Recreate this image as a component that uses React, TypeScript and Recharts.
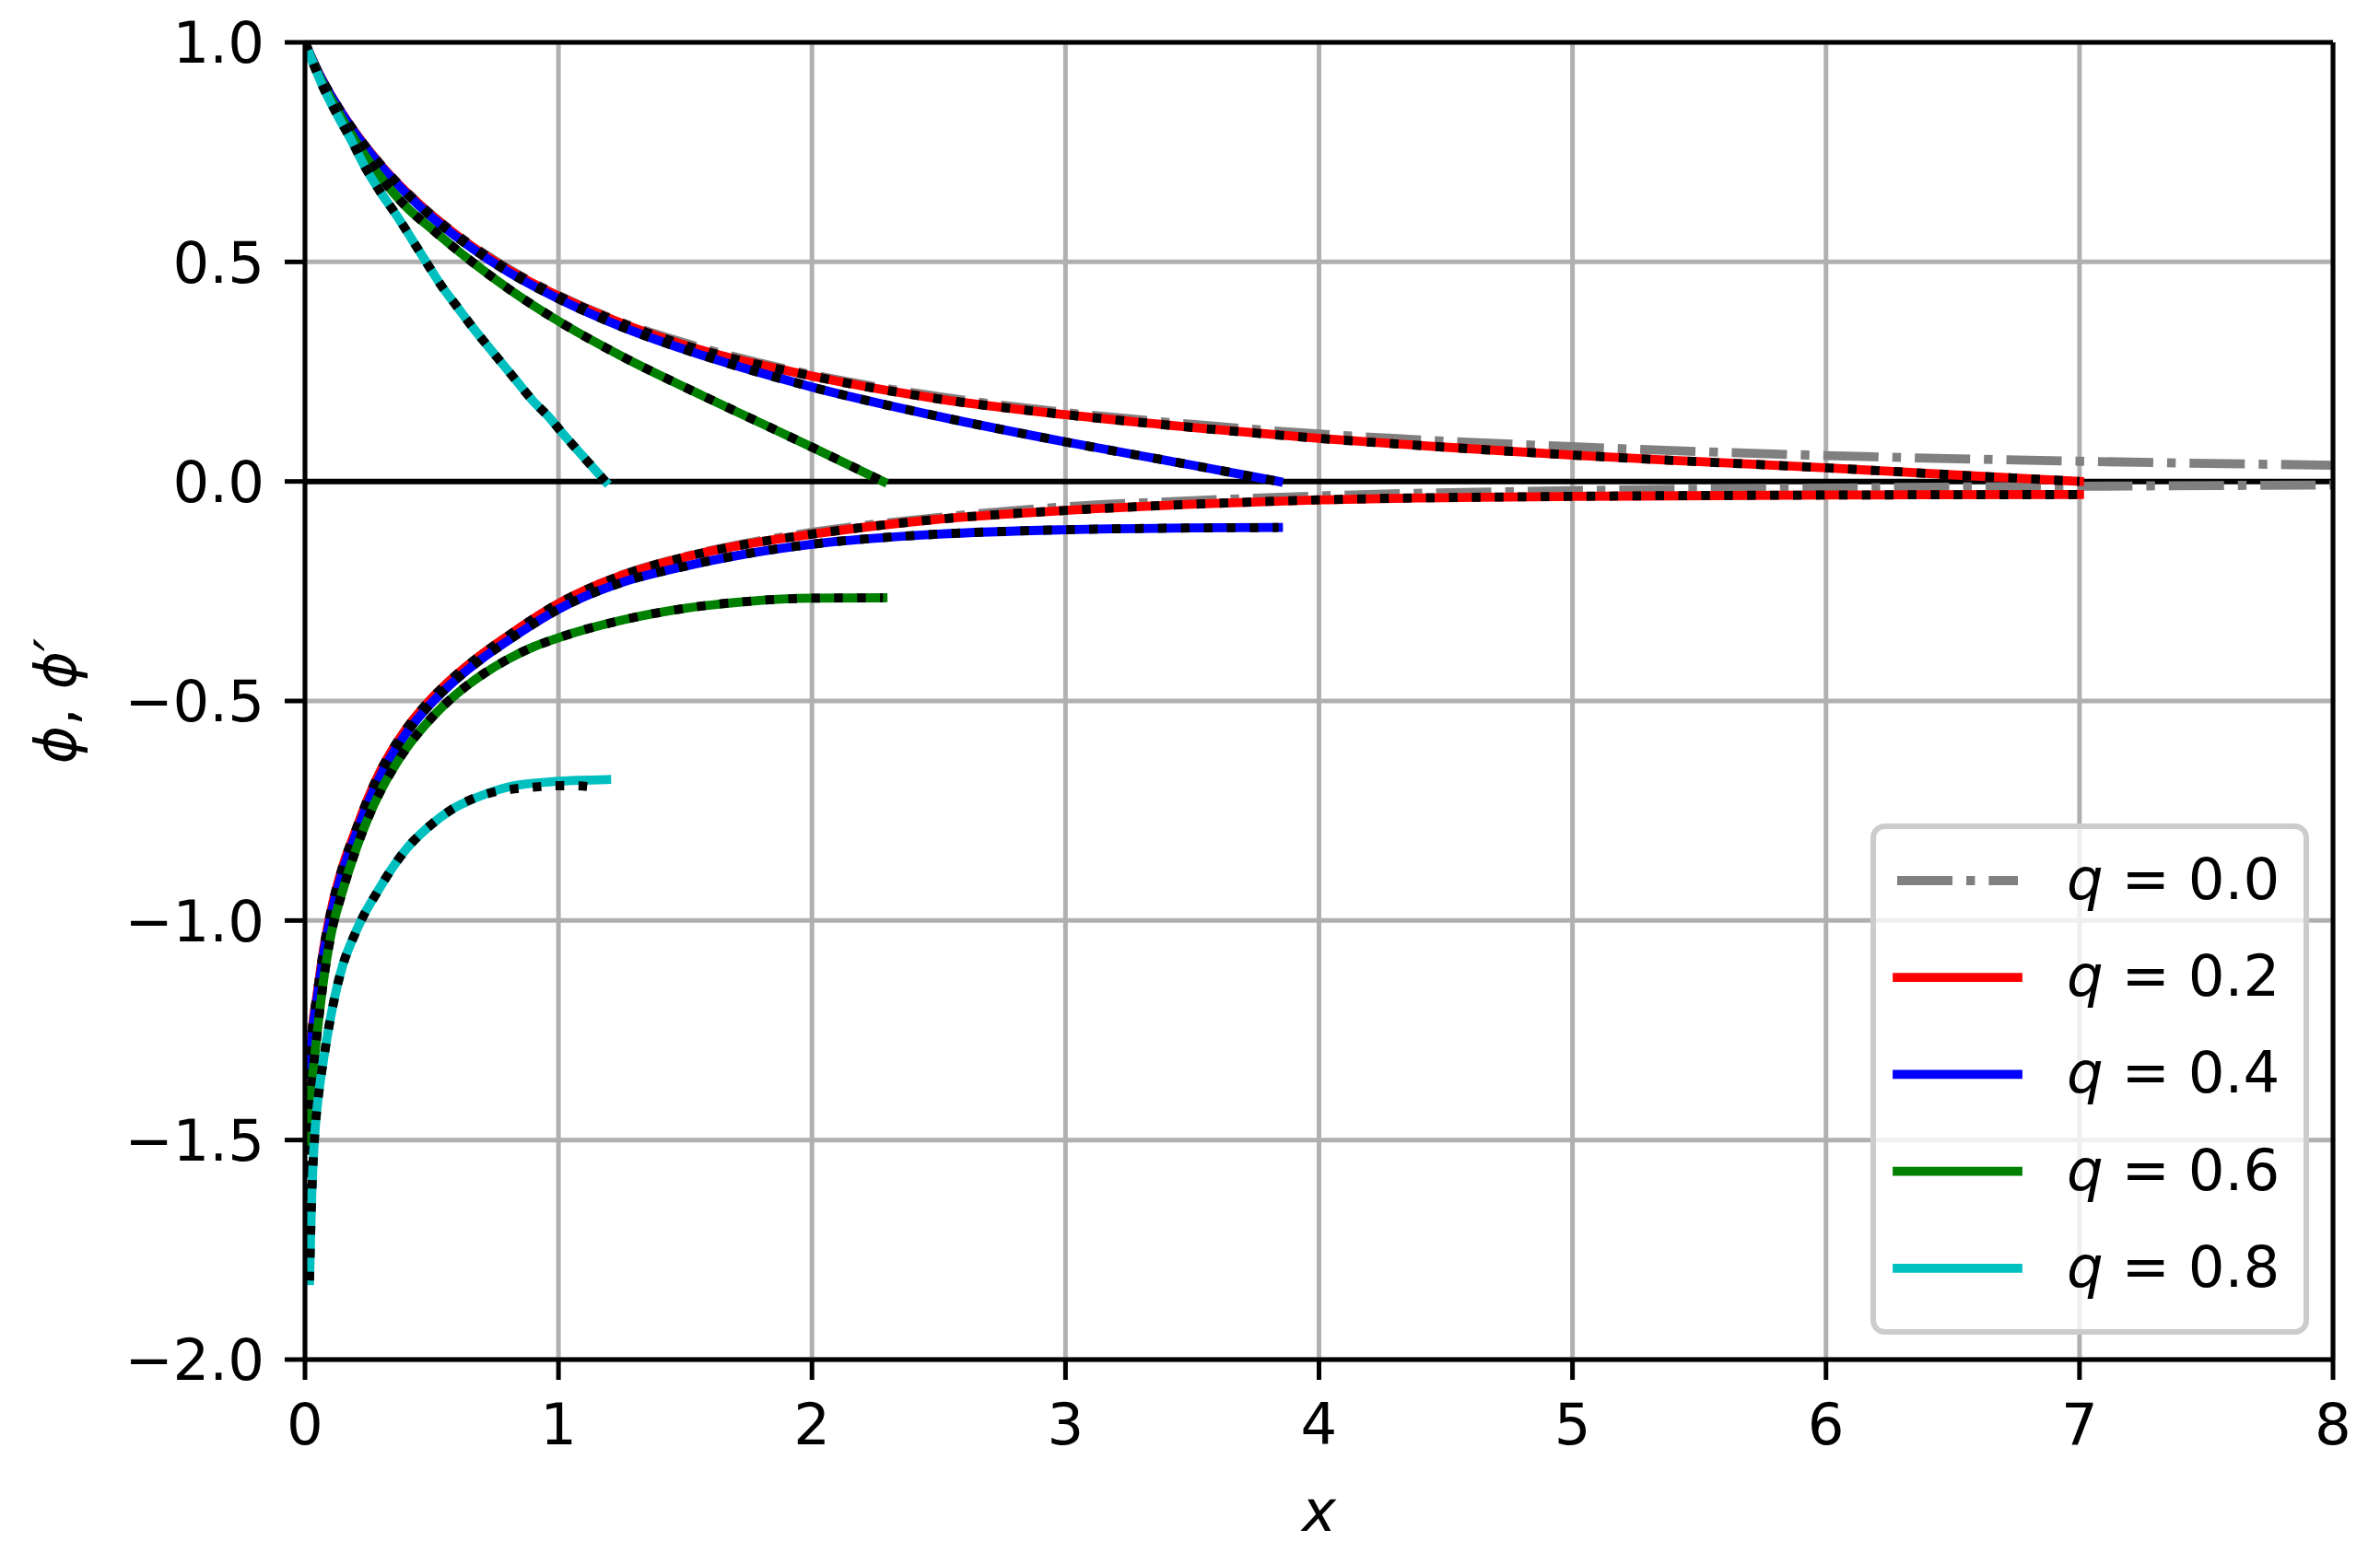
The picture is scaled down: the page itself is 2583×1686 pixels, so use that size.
import React from 'react';
import { LineChart, Line, XAxis, YAxis, CartesianGrid, ReferenceLine, Legend } from 'recharts';

// axis ticks
const xTicks = [0, 1, 2, 3, 4, 5, 6, 7, 8];
const yTicks = [-2, -1.5, -1, -0.5, 0, 0.5, 1];
const qLabels = ['0.0', '0.2', '0.4', '0.6', '0.8'];

// phi (upper branches) and phi' (lower branches), [x, value]
const phiQ00 = [[0, 1], [0.05, 0.935], [0.1, 0.882], [0.2, 0.793], [0.3, 0.721], [0.4, 0.66], [0.5, 0.607], [0.6, 0.562], [0.8, 0.485], [1, 0.424], [1.25, 0.362], [1.5, 0.315], [2, 0.243], [2.5, 0.193], [3, 0.157], [3.5, 0.13], [4, 0.108], [5, 0.079], [6, 0.059], [7, 0.046], [8, 0.037]];
const dphiQ00 = [[0.01, -1.38], [0.03, -1.24], [0.05, -1.16], [0.075, -1.06], [0.1, -0.985], [0.15, -0.875], [0.2, -0.795], [0.25, -0.72], [0.3, -0.657], [0.35, -0.606], [0.4, -0.563], [0.5, -0.494], [0.6, -0.439], [0.7, -0.393], [0.8, -0.352], [0.9, -0.313], [1, -0.278], [1.1, -0.249], [1.25, -0.213], [1.5, -0.171], [1.75, -0.14], [2, -0.116], [2.5, -0.082], [3, -0.058], [3.5, -0.044], [4, -0.033], [5, -0.021], [6, -0.015], [7, -0.011], [8, -0.008]];

const phiQ02 = [[0, 1], [0.05, 0.935], [0.1, 0.882], [0.2, 0.793], [0.3, 0.72], [0.4, 0.659], [0.5, 0.606], [0.6, 0.56], [0.8, 0.483], [1, 0.422], [1.25, 0.36], [1.5, 0.31], [2, 0.24], [2.5, 0.188], [3, 0.152], [3.5, 0.123], [4, 0.098], [4.5, 0.078], [5, 0.06], [5.5, 0.045], [6, 0.031], [6.5, 0.015], [7, 0]];
const dphiQ02 = [[0.015, -1.33], [0.03, -1.24], [0.05, -1.16], [0.075, -1.06], [0.1, -0.985], [0.15, -0.875], [0.2, -0.795], [0.25, -0.72], [0.3, -0.657], [0.35, -0.606], [0.4, -0.563], [0.5, -0.494], [0.6, -0.439], [0.7, -0.393], [0.8, -0.352], [0.9, -0.313], [1, -0.278], [1.1, -0.249], [1.25, -0.214], [1.5, -0.172], [1.75, -0.142], [2, -0.12], [2.5, -0.086], [3, -0.066], [3.5, -0.052], [4, -0.042], [5, -0.034], [6, -0.031], [7, -0.03]];

const phiQ04 = [[0, 1], [0.05, 0.934], [0.1, 0.881], [0.2, 0.791], [0.3, 0.718], [0.4, 0.656], [0.5, 0.602], [0.6, 0.556], [0.8, 0.478], [1, 0.416], [1.25, 0.352], [1.5, 0.3], [2, 0.215], [2.5, 0.148], [3, 0.09], [3.5, 0.037], [3.84, 0]];
const dphiQ04 = [[0.015, -1.35], [0.03, -1.25], [0.05, -1.17], [0.075, -1.07], [0.1, -0.995], [0.15, -0.885], [0.2, -0.805], [0.25, -0.73], [0.3, -0.667], [0.35, -0.616], [0.4, -0.573], [0.5, -0.504], [0.6, -0.449], [0.7, -0.403], [0.8, -0.363], [0.9, -0.325], [1, -0.291], [1.1, -0.263], [1.25, -0.23], [1.5, -0.193], [1.75, -0.164], [2, -0.143], [2.5, -0.12], [3, -0.11], [3.5, -0.106], [3.84, -0.105]];

const phiQ06 = [[0, 1], [0.05, 0.93], [0.1, 0.874], [0.2, 0.775], [0.3, 0.692], [0.4, 0.625], [0.5, 0.575], [0.6, 0.527], [0.8, 0.44], [1, 0.365], [1.25, 0.285], [1.5, 0.214], [1.75, 0.146], [2, 0.078], [2.28, 0]];
const dphiQ06 = [[0.01, -1.52], [0.02, -1.42], [0.04, -1.3], [0.07, -1.15], [0.1, -1.04], [0.15, -0.93], [0.2, -0.84], [0.25, -0.765], [0.3, -0.703], [0.35, -0.652], [0.4, -0.608], [0.5, -0.538], [0.6, -0.483], [0.7, -0.44], [0.8, -0.405], [0.9, -0.377], [1, -0.356], [1.25, -0.316], [1.5, -0.289], [1.75, -0.273], [2, -0.266], [2.28, -0.265]];

const phiQ08 = [[0, 1], [0.07, 0.9], [0.13, 0.832], [0.18, 0.78], [0.24, 0.713], [0.3, 0.657], [0.36, 0.607], [0.42, 0.553], [0.48, 0.498], [0.54, 0.444], [0.6, 0.398], [0.66, 0.352], [0.72, 0.309], [0.78, 0.267], [0.84, 0.225], [0.9, 0.183], [0.96, 0.148], [1.02, 0.107], [1.08, 0.068], [1.185, 0]];
const dphiQ08 = [[0.018, -1.82], [0.022, -1.72], [0.027, -1.62], [0.033, -1.54], [0.042, -1.46], [0.055, -1.39], [0.075, -1.31], [0.108, -1.2], [0.15, -1.1], [0.19, -1.04], [0.23, -0.99], [0.279, -0.941], [0.339, -0.885], [0.4, -0.837], [0.485, -0.788], [0.582, -0.746], [0.703, -0.714], [0.824, -0.693], [1, -0.683], [1.19, -0.679]];

// black dotted approximations: they sit on the curves above, except these pieces
const approxTipQ02 = [[0.004, -1.62]];
const approxTipQ04 = [[0.004, -1.62]];
const approxTipQ06 = [[0.004, -1.69]];
const approxTailQ08 = [[0.83, -0.7], [0.91, -0.696], [0.99, -0.693], [1.07, -0.693], [1.145, -0.697]];

const toPts = (arr: number[][]) => arr.map(([x, y]) => ({ x, y }));

const series = [
  { q: qLabels[0], color: '#808080', dash: '60 15 9.4 15', upper: phiQ00, lower: dphiQ00, approxUpper: null, approxLower: null },
  { q: qLabels[1], color: '#ff0000', dash: undefined, upper: phiQ02, lower: dphiQ02, approxUpper: phiQ02, approxLower: [...approxTipQ02, ...dphiQ02] },
  { q: qLabels[2], color: '#0000ff', dash: undefined, upper: phiQ04, lower: dphiQ04, approxUpper: phiQ04, approxLower: [...approxTipQ04, ...dphiQ04] },
  { q: qLabels[3], color: '#008000', dash: undefined, upper: phiQ06, lower: dphiQ06, approxUpper: phiQ06, approxLower: [...approxTipQ06, ...dphiQ06] },
  { q: qLabels[4], color: '#00bfbf', dash: undefined, upper: phiQ08, lower: dphiQ08, approxUpper: phiQ08, approxLower: [...dphiQ08.filter(p => p[0] < 0.8), ...approxTailQ08] },
];

const FONT = '"DejaVu Sans", sans-serif';
const FS = 62.5;
const LW = 9.8;

const fmtY = (v: number) => (v < 0 ? '\u2212' : '') + Math.abs(v).toFixed(1);

const renderYLabel = (props: any) => {
  const vb = props && props.viewBox ? props.viewBox : { x: 131, y: 46, width: 200, height: 1430 };
  const cx = vb.x - 49;
  const cy = vb.y + vb.height / 2;
  return (
    <text x={cx} y={cy} transform={`rotate(-90 ${cx} ${cy})`} textAnchor="middle" fontFamily={FONT} fontSize={FS} fill="#000">
      <tspan fontStyle="italic">ϕ</tspan>, <tspan fontStyle="italic">ϕ′</tspan>
    </text>
  );
};

const renderXLabel = (props: any) => {
  const vb = props && props.viewBox ? props.viewBox : { x: 331, y: 1476, width: 2201, height: 150 };
  const cx = vb.x + vb.width / 2;
  const cy = vb.y + 186;
  return (
    <text x={cx} y={cy} textAnchor="middle" fontFamily={FONT} fontSize={FS} fontStyle="italic" fill="#000">x</text>
  );
};

const LegendBox = () => (
  <svg width={476} height={555} style={{ display: 'block' }}>
    <rect x={3} y={3} width={470} height={549} rx={12.5} ry={12.5} fill="#ffffff" fillOpacity={0.8} stroke="#cccccc" strokeWidth={6} />
    {series.map((s, i) => {
      const y = 62 + i * 105.2;
      return (
        <g key={s.q}>
          <line x1={29} x2={160} y1={y} y2={y} stroke={s.color} strokeWidth={LW}
            strokeDasharray={s.dash} strokeLinecap={s.dash ? 'butt' : 'square'} />
          <text x={213} y={y + 20} fontFamily={FONT} fontSize={FS} fill="#000">
            <tspan fontStyle="italic">q</tspan> = {s.q}
          </text>
        </g>
      );
    })}
  </svg>
);

const App: React.FC = () => {
  const lines: React.ReactNode[] = [];
  series.forEach((s, i) => {
    const solidCap = s.dash ? 'butt' : 'square';
    lines.push(
      <Line key={`u${i}`} data={toPts(s.upper)} dataKey="y" type="monotone" stroke={s.color} strokeWidth={LW}
        strokeDasharray={s.dash} strokeLinecap={solidCap as any} strokeLinejoin="round"
        dot={false} activeDot={false} isAnimationActive={false} legendType="none" />
    );
    if (s.approxUpper) {
      lines.push(
        <Line key={`au${i}`} data={toPts(s.approxUpper)} dataKey="y" type="monotone" stroke="#000" strokeWidth={LW}
          strokeDasharray="9.4 15.5" strokeLinecap="butt"
          dot={false} activeDot={false} isAnimationActive={false} legendType="none" />
      );
    }
    lines.push(
      <Line key={`l${i}`} data={toPts(s.lower)} dataKey="y" type="monotone" stroke={s.color} strokeWidth={LW}
        strokeDasharray={s.dash} strokeLinecap={solidCap as any} strokeLinejoin="round"
        dot={false} activeDot={false} isAnimationActive={false} legendType="none" />
    );
    if (s.approxLower) {
      lines.push(
        <Line key={`al${i}`} data={toPts(s.approxLower)} dataKey="y" type="monotone" stroke="#000" strokeWidth={LW}
          strokeDasharray="9.4 15.5" strokeLinecap="butt"
          dot={false} activeDot={false} isAnimationActive={false} legendType="none" />
      );
    }
  });

  return (
    <div style={{ position: 'absolute', left: 0, top: 0, width: 2583, height: 1686, background: '#fff' }}>
      <LineChart width={2583} height={1686} margin={{ top: 46, right: 51, bottom: 60, left: 131 }}>
        <CartesianGrid stroke="#b0b0b0" strokeWidth={5} horizontalValues={yTicks} verticalValues={xTicks} />
        <XAxis type="number" dataKey="x" domain={[0, 8]} ticks={xTicks} allowDataOverflow interval={0}
          height={150} tickSize={22} tickMargin={26}
          axisLine={{ stroke: '#000', strokeWidth: 5 }} tickLine={{ stroke: '#000', strokeWidth: 5 }}
          tick={{ fill: '#000', fontFamily: FONT, fontSize: FS }} label={renderXLabel} />
        <YAxis type="number" domain={[-2, 1]} ticks={yTicks} allowDataOverflow interval={0}
          width={200} tickSize={22} tickMargin={22} tickFormatter={fmtY}
          axisLine={{ stroke: '#000', strokeWidth: 5 }} tickLine={{ stroke: '#000', strokeWidth: 5 }}
          tick={{ fill: '#000', fontFamily: FONT, fontSize: FS }} label={renderYLabel} />
        <ReferenceLine y={0} stroke="#000" strokeWidth={6} />
        {lines}
        <ReferenceLine y={1} stroke="#000" strokeWidth={5} />
        <ReferenceLine x={8} stroke="#000" strokeWidth={5} />
        <Legend layout="horizontal" verticalAlign="middle" align="center"
          wrapperStyle={{ left: 2030, top: 894, width: 476, height: 555 }}
          content={() => <LegendBox />} />
      </LineChart>
    </div>
  );
};

export default App;
